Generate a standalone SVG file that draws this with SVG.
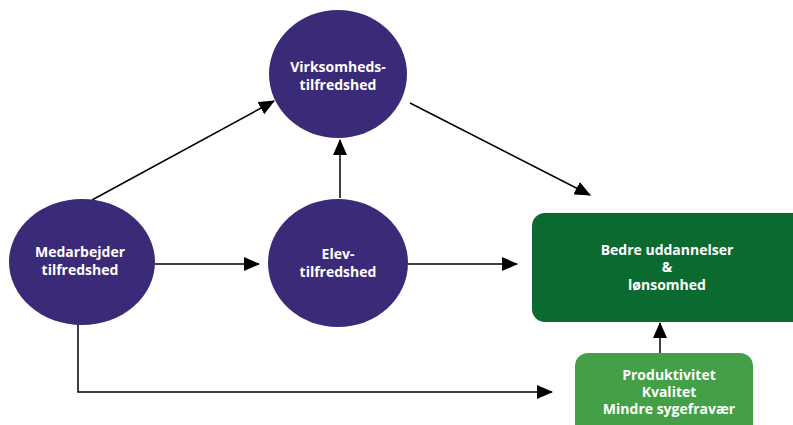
<svg xmlns="http://www.w3.org/2000/svg" width="793" height="425" viewBox="0 0 793 425">
<defs>
<marker id="ah" markerWidth="16" markerHeight="14" refX="15" refY="7" orient="auto" markerUnits="userSpaceOnUse" viewBox="0 0 16 14">
<path d="M0,0 L16,7 L0,14 z" fill="#000"/>
</marker>
</defs>
<style>
.circ{fill:#3b2a78;}
.dg{fill:#0b6a30;}
.lg{fill:#43a046;}
.t{font-family:"Open Sans","Liberation Sans",sans-serif;font-weight:bold;font-size:14px;fill:#fff;text-anchor:middle;}
.c{stroke:#000;stroke-width:1.5;fill:none;marker-end:url(#ah);}
</style>
<rect width="793" height="425" fill="#fff"/>
<g id="connectors">
<line class="c" x1="92" y1="200" x2="274" y2="101"/>
<line class="c" x1="410" y1="103" x2="590" y2="195"/>
<line class="c" x1="340" y1="198" x2="340" y2="140"/>
<line class="c" x1="155" y1="264" x2="259" y2="264"/>
<line class="c" x1="408" y1="264" x2="517" y2="264"/>
<polyline class="c" points="78,323 78,392 552,392"/>
<line class="c" x1="660" y1="353" x2="660" y2="323"/>
</g>
<g id="virksomheds">
<ellipse class="circ" cx="338" cy="74" rx="69" ry="64"/>
<text class="t" x="338" y="72">Virksomheds-</text>
<text class="t" x="338" y="90">tilfredshed</text>
</g>
<g id="medarbejder">
<ellipse class="circ" cx="82" cy="262" rx="73" ry="63"/>
<text class="t" x="80" y="257">Medarbejder</text>
<text class="t" x="80" y="275">tilfredshed</text>
</g>
<g id="elev">
<ellipse class="circ" cx="338" cy="263" rx="70" ry="64"/>
<text class="t" x="338" y="259">Elev-</text>
<text class="t" x="338" y="277">tilfredshed</text>
</g>
<g id="bedre">
<rect class="dg" x="532" y="213" width="275" height="109" rx="13"/>
<text class="t" x="667" y="255">Bedre uddannelser</text>
<text class="t" x="667" y="272">&amp;</text>
<text class="t" x="667" y="290">lønsomhed</text>
</g>
<g id="produktivitet">
<rect class="lg" x="575" y="353" width="178" height="85" rx="13"/>
<text class="t" x="669" y="380">Produktivitet</text>
<text class="t" x="669" y="397">Kvalitet</text>
<text class="t" x="669" y="414">Mindre sygefravær</text>
</g>
</svg>
